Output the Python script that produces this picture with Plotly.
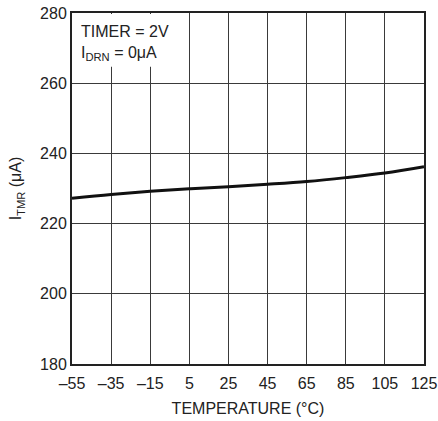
import plotly.graph_objects as go

temperature = [-55, -35, -15, 5, 25, 45, 65, 85, 105, 125]
i_tmr = [227.2, 228.3, 229.2, 229.9, 230.5, 231.2, 232.0, 233.1, 234.4, 236.2]

x_ticks = [-55, -35, -15, 5, 25, 45, 65, 85, 105, 125]
x_ticktext = ["\u201355", "\u201335", "\u201315", "5", "25", "45", "65", "85", "105", "125"]
y_ticks = [180, 200, 220, 240, 260, 280]

FONT = "Liberation Sans, Arial, sans-serif"

fig = go.Figure()
fig.add_trace(go.Scatter(x=temperature, y=i_tmr, mode="lines", line=dict(color="#111", width=3, shape="spline"),
                         showlegend=False, hoverinfo="skip"))

fig.update_layout(
    width=438, height=421,
    margin=dict(l=72, r=14, t=13, b=57),
    paper_bgcolor="white", plot_bgcolor="white",
    font=dict(family=FONT, size=16, color="#222"),
    xaxis=dict(range=[-55, 125], tickvals=x_ticks, ticktext=x_ticktext, showgrid=True,
               gridcolor="#3a3a3a", gridwidth=1, showline=True, linecolor="#222", linewidth=2,
               mirror=True, ticks="", zeroline=False, tickfont=dict(size=16), automargin=False,
               ticklabelstandoff=4,
               title=dict(text="TEMPERATURE (°C)", font=dict(size=16), standoff=12)),
    yaxis=dict(range=[180, 280], tickvals=y_ticks, showgrid=True, gridcolor="#3a3a3a", gridwidth=1,
               showline=True, linecolor="#222", linewidth=2, mirror=True, ticks="", zeroline=False,
               tickfont=dict(size=16), automargin=False,
               title=dict(text="I<sub>TMR</sub> (μA)", font=dict(size=16), standoff=14)),
)

fig.add_shape(type="rect", xref="paper", yref="paper", x0=0.003, x1=0.27, y0=0.847, y1=0.997,
              fillcolor="white", line=dict(width=0), layer="above")
fig.add_annotation(xref="paper", yref="paper", x=0.02, y=0.978, xanchor="left", yanchor="top",
                   text="TIMER = 2V<br>I<sub>DRN</sub> = 0μA", showarrow=False, align="left",
                   font=dict(size=16, family=FONT, color="#222"))

fig.write_html("out.html", config={"displayModeBar": False},
               post_script="document.body.style.margin='0';document.body.style.overflow='hidden';")
